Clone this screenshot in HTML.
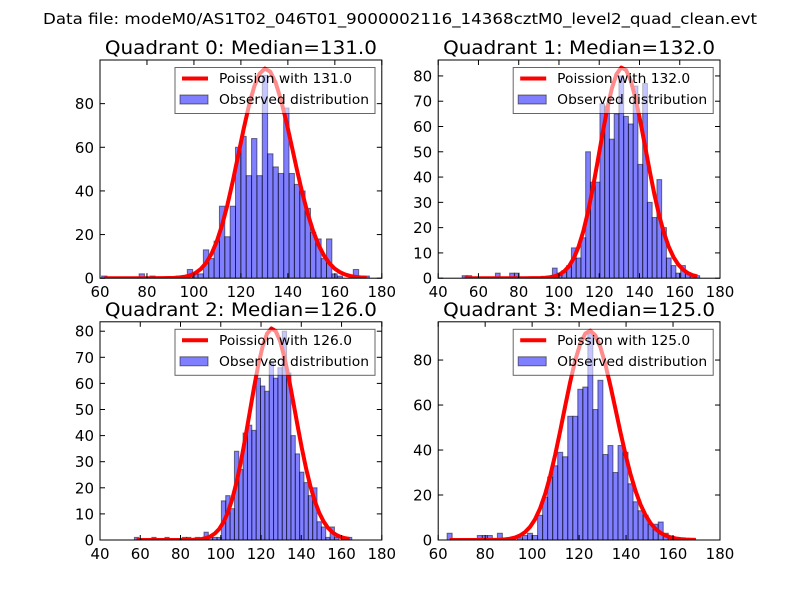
<!DOCTYPE html>
<html><head><meta charset="utf-8"><style>
html,body{margin:0;padding:0;background:#fff;}
svg{display:block;font-family:"DejaVu Sans","Liberation Sans",sans-serif;}
</style></head><body>
<svg id="fig" width="800" height="600" viewBox="0 0 800 600">
<rect x="0" y="0" width="800" height="600" fill="#fff"/>
<text x="400" y="24" text-anchor="middle" font-size="15.5" textLength="714" lengthAdjust="spacingAndGlyphs">Data file: modeM0/AS1T02_046T01_9000002116_14368cztM0_level2_quad_clean.evt</text>
</svg>
<script>
const medians = [131, 132, 126, 125];
const binStart = [60.7, 51.9, 57.1, 63.8];
const binWidth = [2.28, 2.36, 2.16, 2.14];
const counts0 = [1,0,0,0,0,0,0,2,0,1,0,0,0,0,1,1,4,2,2,13,9,17,33,19,33,60,65,47,64,47,93,57,51,48,78,48,43,40,32,21,18,9,18,2,1,0,0,4,1,1];
const counts1 = [1,1,0,0,0,0,0,2,0,0,2,2,0,0,0,0,0,0,0,4,2,3,5,12,8,16,50,38,38,69,68,55,65,80,64,61,76,45,77,30,24,39,20,8,5,2,5,2,1,1];
const counts2 = [1,0,0,0,1,0,0,1,0,0,0,1,1,0,1,0,3,1,1,1,15,17,12,34,27,41,44,42,62,59,57,68,62,66,80,64,40,33,26,22,17,20,7,5,1,5,1,0,1,1];
const counts3 = [3,0,0,0,0,0,2,2,2,0,3,0,0,0,1,2,3,2,11,19,28,33,39,37,55,55,67,68,92,58,71,38,42,30,42,39,25,17,13,11,7,7,8,3,1,0,0,0,0,0];
const curvePeak = [96, 83.3, 81, 93];
const xMin = [60, 40, 40, 60];
const xMax = [180, 180, 180, 180];
const yMax = [100, 86.3, 83.6, 97];
const xTicks0 = [60,80,100,120,140,160,180];
const xTicks1 = [40,60,80,100,120,140,160,180];
const xTicks2 = [40,60,80,100,120,140,160,180];
const xTicks3 = [60,80,100,120,140,160,180];
const yTicks0 = [0,20,40,60,80];
const yTicks1 = [0,10,20,30,40,50,60,70,80];
const yTicks2 = [0,10,20,30,40,50,60,70,80];
const yTicks3 = [0,20,40,60,80];

const allCounts = [counts0, counts1, counts2, counts3];
const allXT = [xTicks0, xTicks1, xTicks2, xTicks3];
const allYT = [yTicks0, yTicks1, yTicks2, yTicks3];
const NS = 'http://www.w3.org/2000/svg';
const svg = document.getElementById('fig');
const boxes = [[100,60],[438.2,60],[100,321.8],[438.2,321.8]];
const AW = 281.8, AH = 218.2;

function mk(tag, attrs, parent) {
  const e = document.createElementNS(NS, tag);
  for (const k in attrs) e.setAttribute(k, attrs[k]);
  (parent || svg).appendChild(e);
  return e;
}
function lnGamma(z) {
  // Stirling series
  if (z < 7) { let s = 0; while (z < 7) { s -= Math.log(z); z += 1; } return s + lnGamma(z); }
  return (z - 0.5) * Math.log(z) - z + 0.5 * Math.log(2 * Math.PI) + 1 / (12 * z) - 1 / (360 * z * z * z);
}
function logPois(k, lam) { return k * Math.log(lam) - lam - lnGamma(k + 1); }

for (let p = 0; p < 4; p++) {
  const [L, T] = boxes[p];
  const xs = v => L + (v - xMin[p]) / (xMax[p] - xMin[p]) * AW;
  const ys = v => T + AH - v / yMax[p] * AH;
  const g = mk('g', {});
  
  
  const clip = mk('clipPath', { id: 'clip' + p }, g);
  mk('rect', { x: L, y: T, width: AW, height: AH }, clip);
  const plot = mk('g', { 'clip-path': 'url(#clip' + p + ')' }, g);
  
  

  const c = allCounts[p];
  for (let i = 0; i < c.length; i++) {
    if (c[i] <= 0) continue;
    const x0 = xs(binStart[p] + i * binWidth[p]);
    const x1 = xs(binStart[p] + (i + 1) * binWidth[p]);
    const r = mk('rect', { x: x0, y: ys(c[i]), width: x1 - x0, height: ys(0) - ys(c[i]),
      fill: '#0000ff', 'fill-opacity': 0.5, stroke: '#000', 'stroke-opacity': 0.5, 'stroke-width': 1 }, plot);
    
    
  }
  const lam = medians[p];
  const ref = logPois(lam, lam);
  let d = '';
  for (let i = 0; i < c.length; i++) {
    const xv = binStart[p] + (i + 0.5) * binWidth[p];
    const yv = curvePeak[p] * Math.exp(logPois(xv, lam) - ref);
    d += (i ? 'L' : 'M') + xs(xv).toFixed(2) + ',' + ys(yv).toFixed(2);
  }
  const line = mk('path', { d: d, fill: 'none', stroke: '#ff0000', 'stroke-width': 4, 'stroke-linejoin': 'round' }, plot);
  
  

  // ticks
  const tg = mk('g', { stroke: '#000', 'stroke-width': 1 }, g);
  allXT[p].forEach(v => {
    const x = xs(v);
    mk('line', { x1: x, y1: T + AH, x2: x, y2: T + AH - 5 }, tg);
    mk('line', { x1: x, y1: T, x2: x, y2: T + 5 }, tg);
    const t = mk('text', { x: x, y: T + AH + 19, 'text-anchor': 'middle', 'font-size': 15 }, g);
    t.textContent = v;
    
    
  });
  allYT[p].forEach(v => {
    const y = ys(v);
    mk('line', { x1: L, y1: y, x2: L + 5, y2: y }, tg);
    mk('line', { x1: L + AW, y1: y, x2: L + AW - 5, y2: y }, tg);
    const t = mk('text', { x: L - 6, y: y + 5.5, 'text-anchor': 'end', 'font-size': 15 }, g);
    t.textContent = v;
    
    
  });
  const frame = mk('rect', { x: L, y: T, width: AW, height: AH, fill: 'none', stroke: '#000', 'stroke-width': 1 }, g);
  
  

  const title = mk('text', { x: L + AW / 2, y: T - 6, 'text-anchor': 'middle', 'font-size': 19, textLength: 272, lengthAdjust: 'spacingAndGlyphs' }, g);
  title.textContent = 'Quadrant ' + p + ': Median=' + medians[p].toFixed(1);
  
  

  // legend
  const lg = mk('g', {}, g);
  
  
  mk('rect', { x: L + 75, y: T + 7.5, width: 200, height: 46, fill: '#fff', 'fill-opacity': 0.55, stroke: '#000', 'stroke-opacity': 0.6, 'stroke-width': 1 }, lg);
  const le1 = mk('line', { x1: L + 82, y1: T + 18.5, x2: L + 108, y2: T + 18.5, stroke: '#ff0000', 'stroke-width': 4 }, lg);
  
  
  const t1 = mk('text', { x: L + 119, y: T + 23, 'font-size': 13, textLength: 133, lengthAdjust: 'spacingAndGlyphs' }, lg);
  t1.textContent = 'Poission with ' + medians[p].toFixed(1);
  const le2 = mk('rect', { x: L + 80, y: T + 35, width: 28, height: 9, fill: '#0000ff', 'fill-opacity': 0.5, stroke: '#000', 'stroke-opacity': 0.5 }, lg);
  
  
  const t2 = mk('text', { x: L + 119, y: T + 44, 'font-size': 13, textLength: 150, lengthAdjust: 'spacingAndGlyphs' }, lg);
  t2.textContent = 'Observed distribution';
}
</script>
</body></html>
